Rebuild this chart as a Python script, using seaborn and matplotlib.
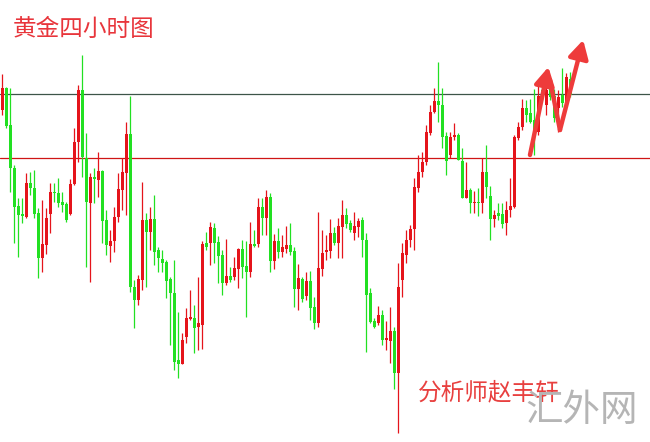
import numpy as np
import pandas as pd
import matplotlib
matplotlib.use("Agg")
import matplotlib.pyplot as plt
import seaborn as sns

# ---- data (arbitrary price units) ----
opens = [340, 361.7, 325, 281.7, 244, 236, 233.3, 267.3, 262, 237,
         192.3, 205, 236, 258.3, 257, 248.3, 246, 235.7, 265.7, 307.7,
         360, 291.7, 246.7, 273.3, 270, 279, 230, 204, 209.3, 233.3,
         260, 277.3, 316, 163, 150, 170, 230, 218.3, 230.7, 200,
         190.7, 188.3, 170.7, 157.3, 90, 86, 113.3, 131, 131.7, 122.7,
         125, 206.7, 206.7, 222.3, 208.3, 195, 167.3, 174, 172.7, 181,
         201, 184, 178.3, 206, 206, 242.7, 232.3, 253.3, 189.3, 209.3,
         198.3, 200.7, 205, 199, 161, 171, 154, 169.3, 143.3, 126.7,
         181, 198.3, 199.3, 217, 207, 223.3, 235, 227, 217, 223.3,
         230, 210, 156.7, 129.3, 126.7, 135, 110, 109.3, 119.3, 76.7,
         170, 195, 210, 221, 262.3, 277.7, 288.3, 316.7, 337.7, 349,
         345, 314.3, 295, 313.3, 315, 289, 252.3, 260, 246.7, 248.3,
         246.7, 278.3, 254.3, 230.7, 236.7, 236, 226.7, 240, 243.3, 311.7,
         323.3, 341.7, 336.7, 330, 318.3, 360, 345, 360.7, 354, 341.7,
         355, 348.3, 370.7]
highs = [376, 362.7, 361.7, 285, 252, 252, 277, 278.3, 280, 242,
         250, 242, 267, 267, 272.3, 258.3, 248.3, 270.7, 321.7, 365,
         395, 317.3, 276.7, 281.7, 298.3, 280, 240, 220, 243.3, 277.3,
         291.7, 328.3, 354, 170, 175, 268.3, 236.7, 243.3, 255, 203.3,
         200, 190, 173.3, 190, 138.3, 116.7, 141.7, 160, 145, 173.3,
         209.3, 218.3, 228.3, 226.7, 214, 200, 210.7, 183.3, 192.7, 201.7,
         210, 209.3, 227.7, 220, 251.7, 251.7, 260, 256.7, 216, 221.7,
         215, 224, 226.7, 202.7, 186, 173.3, 178.3, 179.3, 152.7, 238.3,
         220, 215, 230.7, 223, 232, 250, 242, 230, 238.3, 232,
         233.3, 217, 162, 132, 144, 140, 129.3, 143.3, 123.3, 186.7,
         206.7, 220, 225, 272, 295, 298.3, 325, 345, 361.7, 387.7,
         361.7, 318.3, 317.7, 326.7, 316.7, 301.7, 288.3, 262.3, 259, 262.3,
         291.7, 305, 264.3, 240, 247.3, 247.3, 249.3, 271.7, 315, 328.3,
         350.7, 350, 350.7, 360.7, 365, 366.7, 368, 370, 361, 360,
         381.7, 377.3, 378.3]
lows = [335, 321.7, 258.3, 207, 193, 227, 232, 255, 232, 172,
        178.3, 196, 217, 248.3, 243.3, 238.3, 228.3, 235, 265, 288.3,
        273.3, 183.3, 168.3, 246.7, 253.3, 206.7, 195, 188.3, 198.3, 228.3,
        240, 235, 158, 122, 145, 160, 163.3, 200, 185, 178.3,
        178.3, 151.7, 105, 80, 71.7, 86, 106.7, 130, 97.3, 100,
        100.7, 200, 185, 187.3, 167.3, 155, 165, 168.3, 170, 161.7,
        172.3, 133.3, 173.3, 202.7, 202.7, 215, 215, 178.3, 181, 191.7,
        192.7, 197.3, 195, 143.3, 140, 148.3, 150, 130, 120.7, 123.3,
        174, 190, 192, 205, 192, 192, 222, 218.3, 210, 213.3,
        193.3, 98.3, 127, 122, 125, 105, 100, 86.7, 60.7, 16.7,
        153.3, 186.7, 203.3, 200, 258.3, 273.3, 285, 315, 336.7, 328.3,
        301.7, 275, 291.7, 310, 290, 251.7, 251.7, 236.7, 237, 234.3,
        236.7, 251.7, 210, 223.3, 230, 221.7, 215, 233.3, 241.7, 310,
        320, 328.3, 326.7, 295, 315, 350, 335, 350, 328.3, 318.3,
        343.3, 346.7, 353.3]
closes = [361.7, 324.3, 281.7, 243.3, 235, 234, 267.3, 262, 236, 192.3,
          206, 232.3, 258.3, 257, 247, 245, 230, 265.7, 307.7, 360,
          293.3, 248.3, 273.3, 270.7, 279, 229.3, 205, 209.3, 233.3, 260.7,
          278, 316, 163, 150, 171, 230, 218.3, 230.7, 198.3, 191.7,
          187.3, 169, 156.7, 88.3, 86, 110, 131.7, 133.3, 121.7, 126.7,
          206, 202.7, 223.3, 207.3, 194, 166.7, 174, 170, 181.7, 201,
          183.3, 178.3, 206, 204, 242.7, 232.3, 253.3, 189.3, 209.3, 198.3,
          202.7, 205, 198.3, 161, 171.7, 150.7, 169.3, 142.3, 127.3, 182.3,
          197.3, 200, 216.7, 207, 224, 235, 226, 220, 224, 229.3,
          210, 155, 128.3, 122.7, 135, 110, 111.7, 119.3, 76.7, 162.7,
          196.7, 210, 220.7, 263.3, 278.3, 288.3, 317.7, 338.3, 349, 345,
          313.3, 289, 313.3, 315, 290, 252.3, 260, 246.7, 248.3, 246.7,
          278.3, 263.3, 230.7, 235, 234, 226, 240, 244, 312.7, 323.3,
          341.7, 335, 328.3, 318.3, 354, 355, 360, 353.3, 331.7, 353.3,
          346.7, 373.3, 355]

resistance_level = 356
support_level = 292

# arrow path of the hand-drawn "N" (candle index, price)
arrow_up1 = [(131.9, 295), (136.5, 383)]
arrow_down = [(136.9, 370), (139.4, 320)]
arrow_up2 = [(139.4, 320), (145.2, 410)]

title_text = "黄金四小时图"
author_text = "分析师赵丰轩"
watermark_text = "汇外网"

# ---- style ----
sns.set_theme(style="white")
plt.rcParams['font.family'] = ['Noto Sans CJK SC', 'DejaVu Sans']

RED = '#e5141b'
GREEN = '#22e022'

df = pd.DataFrame({'open': opens, 'high': highs, 'low': lows, 'close': closes})
df['idx'] = np.arange(len(df))
df['up'] = df['close'] >= df['open']
df['body_bot'] = df[['open', 'close']].min(axis=1)
df['body_h'] = (df['close'] - df['open']).abs().clip(lower=1.3)
colors = np.where(df['up'], RED, GREEN)

fig = plt.figure(figsize=(6.5, 4.42), dpi=100)
ax = fig.add_axes([0, 0, 1, 1])
ax.set_xlim(-0.575, 161.9)
ax.set_ylim(8, 450)
ax.axis('off')

ax.axhline(resistance_level, color='#3d5448', lw=0.9, zorder=1)
ax.axhline(support_level, color='#cf1515', lw=0.9, zorder=1)

ax.vlines(df['idx'], df['low'], df['high'], colors=colors, lw=0.9, zorder=2)
ax.bar(df['idx'], df['body_h'], bottom=df['body_bot'], width=0.75,
       color=colors, linewidth=0, zorder=3)

arrow_color = '#ee3b3b'
aprops = dict(arrowstyle='-|>,head_length=0.9,head_width=0.5', lw=3.2,
              color=arrow_color, shrinkA=0, shrinkB=0, mutation_scale=12)
ax.annotate('', xy=arrow_up1[1], xytext=arrow_up1[0], arrowprops=aprops, zorder=5)
ax.plot([p[0] for p in arrow_down], [p[1] for p in arrow_down],
        color=arrow_color, lw=3.2, solid_capstyle='round', zorder=5)
ax.annotate('', xy=arrow_up2[1], xytext=arrow_up2[0], arrowprops=aprops, zorder=5)

fig.text(13 / 650, 1 - 29 / 442, title_text, color='#e8353b', fontsize=17,
         ha='left', va='center')
fig.text(418 / 650, 1 - 393 / 442, author_text, color='#e8403f', fontsize=17,
         ha='left', va='center')
fig.text(582 / 650, 1 - 411 / 442, watermark_text, color='#b5b5b5', fontsize=27,
         fontweight='light', ha='center', va='center')

fig.savefig('out.png', dpi=100)
